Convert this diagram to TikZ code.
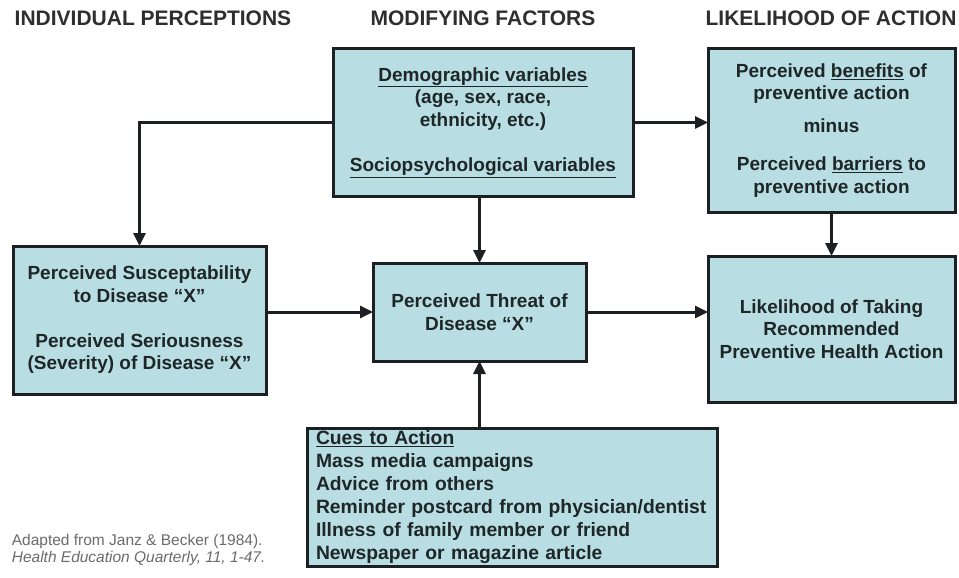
\documentclass[tikz,border=0pt]{standalone}
\usepackage{fontspec}
\setmainfont{Liberation Sans}
\usepackage{xcolor}
\definecolor{boxFill}{RGB}{184,222,228}
\definecolor{boxLine}{RGB}{28,32,34}
\definecolor{textDark}{RGB}{30,38,40}
\colorlet{colorHeader}{black!82}
\colorlet{colorSource}{black!58}
\usetikzlibrary{arrows.meta, positioning}
\hyphenpenalty=10000
\tikzset{factor/.style={draw=boxLine, fill=boxFill, line width=3pt, align=center, text=textDark, font=\fontsize{19}{22.5}\selectfont\bfseries, inner sep=0pt, outer sep=0pt}}
\tikzset{heading/.style={text=colorHeader, font=\fontsize{21}{24}\selectfont\bfseries}}

\begin{document}
\begin{tikzpicture}[x=1pt, y=-1pt, >={Triangle[length=13pt,width=12pt]}, line width=3pt]
\useasboundingbox (0,0) rectangle (959,578);
\node[heading] (hPercept) at (153,18) {INDIVIDUAL PERCEPTIONS};
\node[heading] (hModify) at (483,18) {MODIFYING FACTORS};
\node[heading] (hLikely) at (831,18) {LIKELIHOOD OF ACTION};
\node[factor, minimum width=300pt, minimum height=147pt] (demo) at (483,122.5) {\underline{Demographic variables}\\(age, sex, race,\\ethnicity, etc.)\\[23pt]\underline{Sociopsychological variables}};
\node[factor, minimum width=247pt, minimum height=163pt] (benefit) at (831.5,130.5) {Perceived \underline{benefits} of\\preventive action\\[10pt]minus\\[16pt]Perceived \underline{barriers} to\\preventive action};
\node[factor, minimum width=247pt, minimum height=146pt, below=44pt of benefit] (likely) {Likelihood of Taking\\Recommended\\Preventive Health Action};
\node[factor, minimum width=213pt, minimum height=98pt] (threat) at (479.5,312) {Perceived Threat of\\Disease ``X''};
\node[factor, minimum width=253pt, minimum height=148pt] (suscept) at (139.5,320) {Perceived Susceptability\\to Disease ``X''\\[22.5pt]Perceived Seriousness\\(Severity) of Disease ``X''};
\node[factor, align=left, text width=392pt, inner xsep=9pt, minimum height=138pt, font=\fontsize{19.3}{23}\selectfont\bfseries] (cues) at (512,497) {\underline{Cues to Action}\\Mass media campaigns\\Advice from others\\Reminder postcard from physician/dentist\\Illness of family member or friend\\Newspaper or magazine article};
\node[anchor=west, align=left, text=colorSource, font=\fontsize{15.5}{17}\selectfont] (source) at (7,550) {Adapted from Janz \& Becker (1984).\\\textit{Health Education Quarterly, 11, 1-47.}};
\draw[->, boxLine] (demo.west) -| (suscept.north);
\draw[->, boxLine] (demo.east) -- (demo.east -| benefit.west);
\draw[->, boxLine] (threat.north |- demo.south) -- (threat.north);
\draw[->, boxLine] (suscept.east |- threat.west) -- (threat.west);
\draw[->, boxLine] (threat.east) -- (threat.east -| likely.west);
\draw[->, boxLine] (benefit) -- (likely);
\draw[->, boxLine] (cues.north -| threat.south) -- (threat.south);
\end{tikzpicture}
\end{document}
